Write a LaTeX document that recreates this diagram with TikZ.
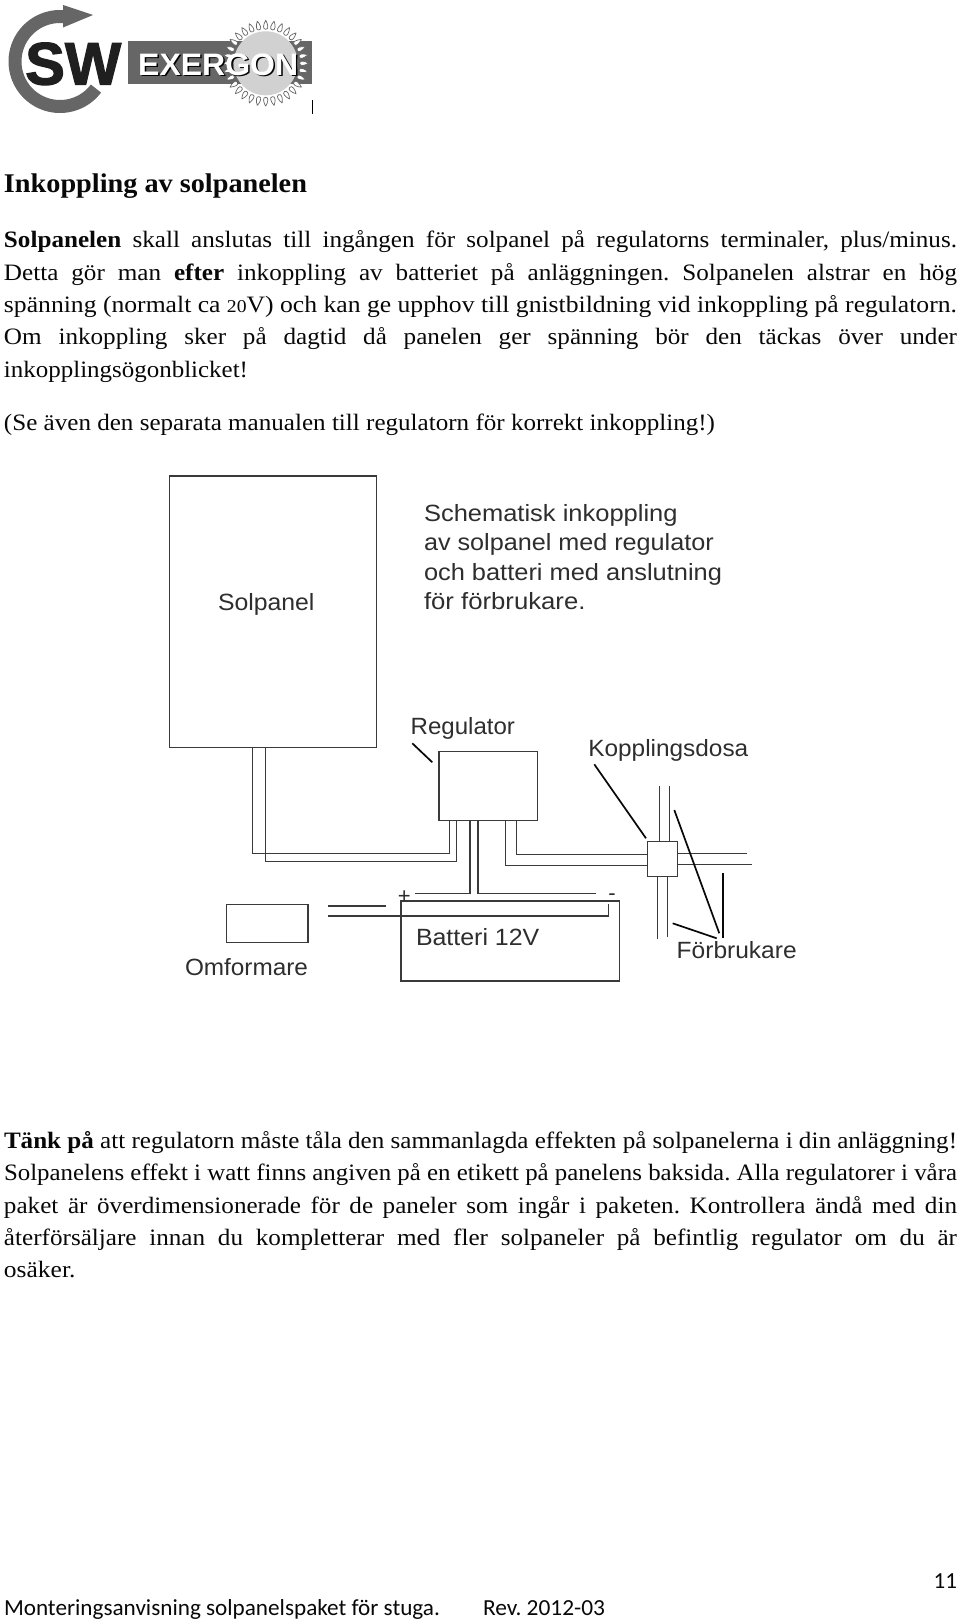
\documentclass[tikz,border=0pt]{standalone}
\usepackage{graphicx}
\usepackage{fontspec}
\setmainfont{Liberation Serif}
\newfontfamily\dfont{Liberation Sans}
\newfontfamily\dbfont{Liberation Sans Bold}
\newfontfamily\ffont{Carlito}
\newfontfamily\swfont[FakeBold=2]{Liberation Sans Bold}
\newsavebox\fitbox
\newcommand\fitto[2]{\sbox\fitbox{#2}\pgfmathsetmacro\fitr{#1/\wd\fitbox}\scalebox{\fitr}[1]{\usebox\fitbox}}
\newcommand\jline[2]{\scalebox{1.07}[1]{\makebox[\dimexpr #1pt*100/107\relax][s]{#2}}}
\newcommand\oldn[1]{{\fontsize{18}{18}\selectfont #1}}
\frenchspacing
\definecolor{ink}{HTML}{080808}
\definecolor{wire}{HTML}{3A3A3A}
\definecolor{dtext}{HTML}{2E2E2E}
\definecolor{lgray}{HTML}{666666}
\tikzset{
  txt/.style={anchor=base west,inner sep=0pt,outer sep=0pt,text=ink,font=\fontsize{23.5}{28}\selectfont},
  head/.style={anchor=base west,inner sep=0pt,outer sep=0pt,text=ink,font=\fontsize{27}{32}\selectfont\bfseries},
  foot/.style={anchor=base west,inner sep=0pt,outer sep=0pt,text=ink,font=\ffont\fontsize{23}{28}\selectfont},
  lbl/.style={anchor=base west,inner sep=0pt,outer sep=0pt,text=dtext,font=\dfont\fontsize{23.5}{28}\selectfont},
  box/.style={draw=wire,line width=1.2pt,inner sep=0pt,outer sep=0pt,anchor=north west,fill=white},
  wirel/.style={draw=wire,line width=1.2pt},
  ptr/.style={draw=ink,line width=1.7pt},
}
\begin{document}
\begin{tikzpicture}[x=1pt,y=-1pt]
\useasboundingbox (0,0) rectangle (960,1622);
\fill[white] (0,0) rectangle (960,1622);
% ---- logo
\draw[lgray,line width=13pt] plot[domain=85:323,samples=70] ({60+45*cos(\x)},{61.5-45*sin(\x)});
\fill[lgray] (63,5) -- (93,15) -- (63,27.5) -- cycle;
\fill[lgray] (128.3,40.7) rectangle (312.3,84);
\foreach \a in {0,11.25,...,349} {
  \begin{scope}[shift={(265.7,63.3)},rotate=\a]
    \draw[draw=lgray,fill=white,line width=.7pt] (43,0) .. controls (39,2.3) and (34,3.4) .. (34,0) .. controls (34,-3.4) and (39,-2.3) .. (43,0);
  \end{scope}
}
\fill[black!18] (265.7,63.3) circle (32);
\node[anchor=base west,inner sep=0pt,text=black!88] (sw) at (25,84.5) {\swfont\fontsize{60}{60}\selectfont\fitto{96}{SW}};
\node[anchor=base west,inner sep=0pt,text=black] (exs) at (139.5,76.5) {\dbfont\fontsize{31}{31}\selectfont\fitto{160}{EXERGON}};
\node[anchor=base west,inner sep=0pt,text=white] (ex) at (138,75) {\dbfont\fontsize{31}{31}\selectfont\fitto{160}{EXERGON}};
\draw[black,line width=1pt] (312.7,100) -- (312.7,114);
% ---- upper text
\node[head] (title) at (4,192) {\fitto{303}{Inkoppling av solpanelen}};
\node[txt] (a1) at (4,247) {\jline{953}{\textbf{Solpanelen} skall anslutas till ingången för solpanel på regulatorns terminaler, plus/minus.}};
\node[txt] (a2) at (4,280) {\jline{953}{Detta gör man \textbf{efter} inkoppling av batteriet på anläggningen. Solpanelen alstrar en hög}};
\node[txt] (a3) at (4,312) {\fitto{953}{spänning (normalt ca \oldn{20}V) och kan ge upphov till gnistbildning vid inkoppling på regulatorn.}};
\node[txt] (a4) at (4,344) {\jline{953}{Om inkoppling sker på dagtid då panelen ger spänning bör den täckas över under}};
\node[txt] (a5) at (4,377) {\fitto{244}{inkopplingsögonblicket!}};
\node[txt] (a6) at (4,430) {\fitto{711}{(Se även den separata manualen till regulatorn för korrekt inkoppling!)}};
% ---- diagram boxes
\node[box,minimum width=207pt,minimum height=271.5pt] (sol) at (169.7,476) {};
\node[box,minimum width=98.3pt,minimum height=68.6pt] (reg) at (439,751.7) {};
\node[box,minimum width=218.3pt,minimum height=80pt] (bat) at (401,901) {};
\node[box,minimum width=81.3pt,minimum height=38pt] (omf) at (226.7,904.3) {};
% ---- wire ends
\coordinate (sa) at (252.3,747.3); \coordinate (sb) at (265.7,747.3);
\coordinate (ra) at (449.3,820.3); \coordinate (rb) at (456.3,820.3);
\coordinate (rc) at (470,820.3); \coordinate (rd) at (478,820.3);
\coordinate (re) at (505.3,820.3); \coordinate (rf) at (516.7,820.3);
\draw[wirel] (sa) -- (252.3,853.3) -- (449.3,853.3) -- (ra);
\draw[wirel] (sb) -- (265.7,861.3) -- (456.3,861.3) -- (rb);
\coordinate (ce) at (415,893.3); \coordinate (cf) at (596,893.3);
\draw[wirel] (rc) |- (ce);
\draw[wirel] (rd) |- (cf);
\coordinate (oa) at (328.3,906); \coordinate (ob) at (386,906);
\coordinate (oc) at (328.3,916); \coordinate (od) at (608.3,904);
\draw[wirel] (oa) -- (ob);
\draw[wirel] (oc) -| (od);
\node[box,minimum width=30.4pt,minimum height=34.6pt] (kd) at (647.3,841.7) {};
\draw[wirel] (rf) |- (kd.west |- 0,854.3);
\draw[wirel] (re) |- (kd.west |- 0,865.7);
\coordinate (ea) at (747.3,853.3); \coordinate (eb) at (752,864.7);
\draw[wirel] (kd.east |- ea) -- (ea);
\draw[wirel] (kd.east |- eb) -- (eb);
\coordinate (ua) at (659.3,786); \coordinate (ub) at (669.7,786);
\draw[wirel] (ua) -- (ua |- kd.north);
\draw[wirel] (ub) -- (ub |- kd.north);
\coordinate (da) at (657.7,939.3); \coordinate (db) at (667.3,936.7);
\draw[wirel] (da |- kd.south) -- (da);
\draw[wirel] (db |- kd.south) -- (db);
% ---- pointers
\coordinate (p1a) at (412.3,743.3); \coordinate (p1b) at (432.3,762.3);
\draw[ptr] (p1a) -- (p1b);
\coordinate (p2a) at (594.3,764.3); \coordinate (p2b) at (646,838.3);
\draw[ptr] (p2a) -- (p2b);
\coordinate (p3a) at (674.3,810); \coordinate (p3b) at (719.3,933.3);
\draw[ptr] (p3a) -- (p3b);
\coordinate (p4a) at (723.3,873.3); \coordinate (p4b) at (723.3,938.3);
\draw[ptr] (p4a) -- (p4b);
\coordinate (p5a) at (672.7,923.3); \coordinate (p5b) at (716.7,938.3);
\draw[ptr] (p5a) -- (p5b);
% ---- diagram labels
\node[lbl] (l1) at (218,610) {\fitto{96.5}{Solpanel}};
\node[lbl] (l2) at (424,521) {\fitto{253.6}{Schematisk inkoppling}};
\node[lbl] (l3) at (424,550.3) {\fitto{289.8}{av solpanel med regulator}};
\node[lbl] (l4) at (424,580) {\fitto{298}{och batteri med anslutning}};
\node[lbl] (l5) at (424,609.7) {\fitto{161.5}{för förbrukare.}};
\node[lbl] (l6) at (410.7,734) {\fitto{104.3}{Regulator}};
\node[lbl] (l7) at (588.3,756) {\fitto{160}{Kopplingsdosa}};
\node[lbl] (l8) at (416,945.7) {\fitto{123.3}{Batteri 12V}};
\node[lbl] (l9) at (185,975) {\fitto{123}{Omformare}};
\node[lbl] (l10) at (676.7,958) {\fitto{120}{Förbrukare}};
\node[lbl,font=\dfont\fontsize{22}{22}\selectfont] (plus) at (397.9,903.3) {+};
\node[lbl,font=\dfont\fontsize{22}{22}\selectfont] (minus) at (608.3,900) {-};
% ---- lower text
\node[txt] (b1) at (4,1148) {\fitto{953}{\textbf{Tänk på} att regulatorn måste tåla den sammanlagda effekten på solpanelerna i din anläggning!}};
\node[txt] (b2) at (4,1180) {\fitto{953}{Solpanelens effekt i watt finns angiven på en etikett på panelens baksida. Alla regulatorer i våra}};
\node[txt] (b3) at (4,1213) {\jline{953}{paket är överdimensionerade för de paneler som ingår i paketen. Kontrollera ändå med din}};
\node[txt] (b4) at (4,1245) {\jline{953}{återförsäljare innan du kompletterar med fler solpaneler på befintlig regulator om du är}};
\node[txt] (b5) at (4,1277) {\fitto{71.5}{osäker.}};
% ---- footer
\node[foot] (f1) at (4,1615) {\fitto{436}{Monteringsanvisning solpanelspaket för stuga.}};
\node[foot] (f2) at (483,1615) {\fitto{122}{Rev. 2012-03}};
\node[foot,anchor=base east] (f3) at (957,1588) {11};
\end{tikzpicture}
\end{document}
